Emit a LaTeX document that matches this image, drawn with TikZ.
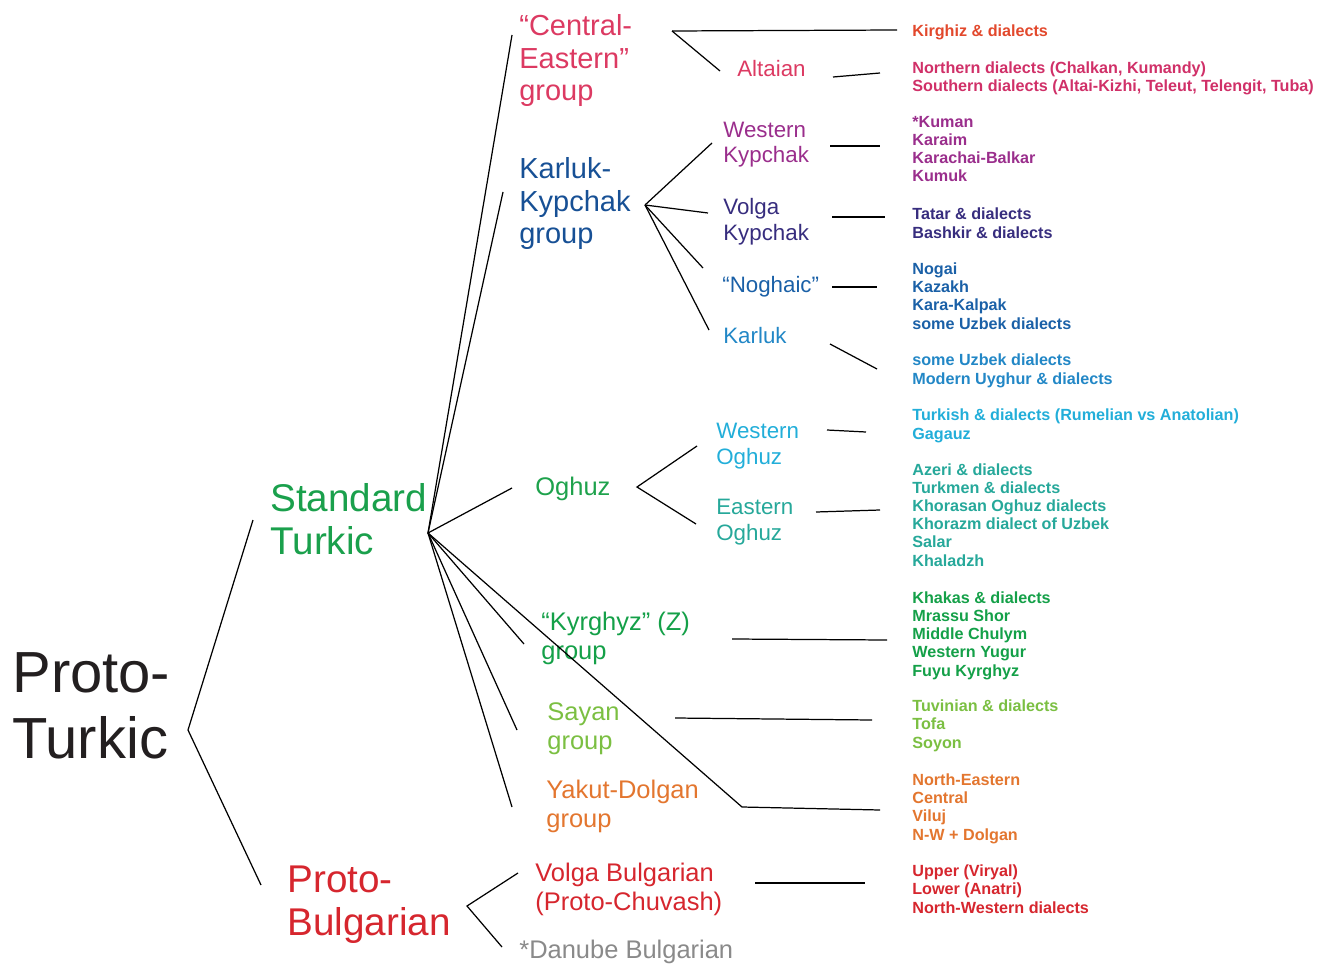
\documentclass[tikz,border=0pt]{standalone}
\usepackage{fontspec}
\setmainfont{Liberation Sans}

\definecolor{ptblack}{HTML}{231F20}
\definecolor{stgreen}{HTML}{1AA04C}
\definecolor{pbred}{HTML}{D6262E}
\definecolor{cered}{HTML}{DC3A62}
\definecolor{kirred}{HTML}{E2482C}
\definecolor{altred}{HTML}{D03068}
\definecolor{wkpurple}{HTML}{9A2E8C}
\definecolor{vkindigo}{HTML}{372D7E}
\definecolor{kkblue}{HTML}{175095}
\definecolor{nogblue}{HTML}{1A60A7}
\definecolor{karblue}{HTML}{2287C6}
\definecolor{wocyan}{HTML}{22AED9}
\definecolor{eoteal}{HTML}{26A89A}
\definecolor{oggreen}{HTML}{1EA24C}
\definecolor{kygreen}{HTML}{14A048}
\definecolor{sygreen}{HTML}{7BBF42}
\definecolor{ydorange}{HTML}{E3762F}
\definecolor{dbgray}{HTML}{8A8A8A}

% nodes are placed at the baseline of their last line
\tikzset{
  lab/.style={anchor=base west, inner sep=0pt, align=left},
  root/.style={lab, font=\fontsize{33}{37.5}\selectfont},
  big/.style={lab, font=\fontsize{22}{24}\selectfont},
  mid/.style={lab, font=\fontsize{16.5}{18.7}\selectfont},
  grp/.style={lab, font=\fontsize{14.5}{16}\selectfont},
  sub/.style={lab, font=\fontsize{12.7}{14.3}\selectfont},
  list/.style={lab, font=\bfseries\fontsize{9.2}{10.3}\selectfont},
  br/.style={line width=0.7pt, black}
}

\begin{document}
\begin{tikzpicture}[x=0.02cm, y=-0.02cm]
\useasboundingbox (0,0) rectangle (1325,966);

% languages and groups
\node[root, text=ptblack] (pt) at (12,758)  {Proto-\\Turkic};
\node[big, text=stgreen]  (st) at (270,554) {Standard\\Turkic};
\node[big, text=pbred]    (pb) at (287,935) {Proto-\\Bulgarian};

\node[mid, text=cered]    (ce) at (519,101) {“Central-\\Eastern”\\group};
\node[mid, text=kkblue]   (kk) at (519,244) {Karluk-\\Kypchak\\group};
\node[grp, text=oggreen]  (og) at (535,495) {Oghuz};
\node[grp, text=kygreen]  (ky) at (541,659) {“Kyrghyz” (Z)\\group};
\node[grp, text=sygreen]  (sy) at (547,749) {Sayan\\group};
\node[grp, text=ydorange] (yd) at (546,827) {Yakut-Dolgan\\group};
\node[grp, text=pbred]    (vb) at (535,910) {Volga Bulgarian\\(Proto-Chuvash)};
\node[grp, text=dbgray]   (db) at (519,958) {*Danube Bulgarian};

\node[sub, text=cered]    (al) at (737,77)  {Altaian};
\node[sub, text=wkpurple] (wk) at (723,163) {Western\\Kypchak};
\node[sub, text=vkindigo] (vk) at (723,240) {Volga\\Kypchak};
\node[sub, text=nogblue]  (no) at (722,293) {“Noghaic”};
\node[sub, text=karblue]  (ka) at (723,343) {Karluk};
\node[sub, text=wocyan]   (wo) at (716,464) {Western\\Oghuz};
\node[sub, text=eoteal]   (eo) at (716,540) {Eastern\\Oghuz};

% modern languages
\node[list, text=kirred]   (l1)  at (912,37)  {Kirghiz \& dialects};
\node[list, text=altred]   (l2)  at (912,92)  {Northern dialects (Chalkan, Kumandy)\\Southern dialects (Altai-Kizhi, Teleut, Telengit, Tuba)};
\node[list, text=wkpurple] (l3)  at (912,182) {*Kuman\\Karaim\\Karachai-Balkar\\Kumuk};
\node[list, text=vkindigo] (l4)  at (912,238) {Tatar \& dialects\\Bashkir \& dialects};
\node[list, text=nogblue]  (l5)  at (912,329) {Nogai\\Kazakh\\Kara-Kalpak\\some Uzbek dialects};
\node[list, text=karblue]  (l6)  at (912,384) {some Uzbek dialects\\Modern Uyghur \& dialects};
\node[list, text=wocyan]   (l7)  at (912,439) {Turkish \& dialects (Rumelian vs Anatolian)\\Gagauz};
\node[list, text=eoteal]   (l8)  at (912,566) {Azeri \& dialects\\Turkmen \& dialects\\Khorasan Oghuz dialects\\Khorazm dialect of Uzbek\\Salar\\Khaladzh};
\node[list, text=kygreen]  (l9)  at (912,676) {Khakas \& dialects\\Mrassu Shor\\Middle Chulym\\Western Yugur\\Fuyu Kyrghyz};
\node[list, text=sygreen]  (l10) at (912,748) {Tuvinian \& dialects\\Tofa\\Soyon};
\node[list, text=ydorange] (l11) at (912,840) {North-Eastern\\Central\\Viluj\\N-W + Dolgan};
\node[list, text=pbred]    (l12) at (912,913) {Upper (Viryal)\\Lower (Anatri)\\North-Western dialects};

% forks
\coordinate (pt-f) at (188,730);
\coordinate (st-f) at (428,533);
\coordinate (ce-f) at (672,31);
\coordinate (kk-f) at (645,205);
\coordinate (og-f) at (637,487);
\coordinate (pb-f) at (467,906);
\coordinate (yd-k) at (742,807);

% branch ends
\coordinate (st-in) at (253,520);
\coordinate (pb-in) at (261,885);
\coordinate (ce-in) at (512,35);
\coordinate (kk-in) at (503,192);
\coordinate (og-in) at (512,488);
\coordinate (ky-in) at (524,644);
\coordinate (sy-in) at (517,730);
\coordinate (yd-in) at (512,807);
\coordinate (al-in) at (720,71);
\coordinate (wk-in) at (712,143);
\coordinate (vk-in) at (708,213);
\coordinate (no-in) at (703,268);
\coordinate (ka-in) at (709,330);
\coordinate (wo-in) at (697,446);
\coordinate (eo-in) at (696,524);
\coordinate (vb-in) at (518,873);
\coordinate (db-in) at (502,947);

\draw[br] (st-in) -- (pt-f) -- (pb-in);
\foreach \b in {ce,kk,og,ky,sy,yd}
  \draw[br] (st-f) -- (\b-in);
\draw[br] (st-f) -- (yd-k) -- (880,810);
\draw[br] (ce-f) -- (897,30);
\draw[br] (ce-f) -- (al-in);
\foreach \b in {wk,vk,no,ka}
  \draw[br] (kk-f) -- (\b-in);
\draw[br] (wo-in) -- (og-f) -- (eo-in);
\draw[br] (vb-in) -- (pb-f) -- (db-in);

% links to the lists
\draw[br] (833,77) -- (880,73);
\draw[br] (830,146) -- (880,146);
\draw[br] (832,217) -- (885,217);
\draw[br] (832,287) -- (877,287);
\draw[br] (830,344) -- (877,369);
\draw[br] (827,430) -- (866,432);
\draw[br] (816,512) -- (880,510);
\draw[br] (732,639) -- (887,640);
\draw[br] (675,718) -- (872,720);
\draw[br] (755,883) -- (865,883);
\end{tikzpicture}
\end{document}
